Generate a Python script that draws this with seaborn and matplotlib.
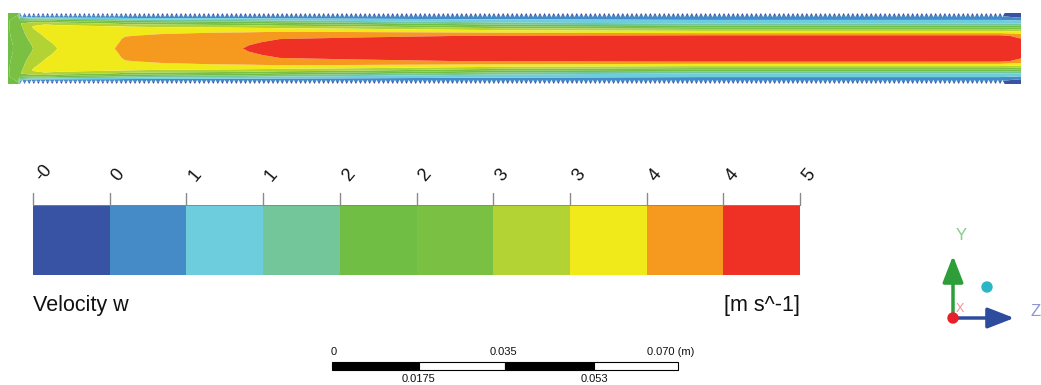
import numpy as np
import matplotlib
matplotlib.use("Agg")
import matplotlib.pyplot as plt
from matplotlib.colors import ListedColormap
from matplotlib.patches import Rectangle, Polygon, Circle
import seaborn as sns

# ---------------- data ----------------
levels = [-0.3, 0.23, 0.76, 1.29, 1.82, 2.35, 2.88, 3.41, 3.94, 4.47, 5.0]
level_labels = ["-0", "0", "1", "1", "2", "2", "3", "3", "4", "4", "5"]
band_colors = ["#3953A4", "#448BC8", "#6ECDDD", "#72C69A", "#71BE45",
               "#7AC143", "#B3D335", "#F1EA1B", "#F6991F", "#EE3124"]
var_name = "Velocity w"
var_unit = "[m s^-1]"

# stations along the channel (mm) and normalised radius (1 = wall valley)
z_mm = [0.0, 2.0, 2.43, 5.06, 7.49, 10.1, 14.6, 21.6, 23.7, 30.7, 47.5,
        55.0, 69.2, 99.5, 140.0, 200.7, 205.0]
eta = [0.0, 0.1, 0.2, 0.3, 0.4, 0.5, 0.6, 0.7, 0.8, 0.9, 1.0, 1.13]
w_half_profiles = [
    [2.30, 2.30, 2.30, 2.30, 2.30, 2.30, 2.30, 2.30, 2.30, 2.30, 2.25, 2.20],
    [2.40, 2.40, 2.42, 2.45, 2.50, 2.55, 2.60, 2.65, 2.70, 2.60, 2.40, 2.30],
    [2.50, 2.50, 2.52, 2.55, 2.60, 2.65, 2.70, 2.78, 2.85, 2.40, 0.90, -0.10],
    [2.88, 2.92, 3.00, 3.10, 3.20, 3.30, 3.38, 3.45, 3.20, 2.30, 0.50, -0.15],
    [3.15, 3.20, 3.28, 3.38, 3.45, 3.52, 3.58, 3.60, 3.30, 2.30, 0.45, -0.15],
    [3.42, 3.48, 3.55, 3.60, 3.65, 3.68, 3.70, 3.60, 3.15, 2.10, 0.45, -0.15],
    [3.60, 3.62, 3.65, 3.68, 3.70, 3.72, 3.72, 3.55, 3.00, 1.90, 0.45, -0.15],
    [3.94, 3.90, 3.85, 3.82, 3.80, 3.78, 3.70, 3.45, 2.80, 1.75, 0.45, -0.15],
    [4.10, 4.08, 4.05, 4.00, 3.92, 3.85, 3.70, 3.40, 2.70, 1.65, 0.42, -0.15],
    [4.25, 4.22, 4.18, 4.12, 4.02, 3.88, 3.65, 3.35, 2.60, 1.50, 0.42, -0.15],
    [4.47, 4.45, 4.40, 4.30, 4.12, 3.98, 3.65, 3.25, 2.40, 1.35, 0.40, -0.15],
    [4.58, 4.57, 4.54, 4.47, 4.25, 4.05, 3.70, 3.10, 2.20, 1.20, 0.40, -0.15],
    [4.65, 4.64, 4.60, 4.53, 4.40, 4.05, 3.60, 2.95, 2.00, 1.10, 0.40, -0.15],
    [4.78, 4.76, 4.72, 4.66, 4.50, 3.95, 3.30, 2.40, 1.45, 0.90, 0.40, -0.15],
    [4.85, 4.82, 4.77, 4.70, 4.62, 3.85, 3.10, 2.10, 1.25, 0.80, 0.40, -0.15],
    [4.88, 4.85, 4.80, 4.72, 4.63, 3.85, 3.10, 2.10, 1.25, 0.80, 0.40, -0.15],
    [4.60, 4.58, 4.55, 4.50, 4.30, 3.70, 3.00, 2.00, 1.20, 0.70, 0.10, -0.25],
]
half_height_mm = 6.37          # wall valley radius
tooth_start_mm, tooth_end_mm = 2.43, 201.7
n_teeth = 214

scale_values = [0.0, 0.0175, 0.035, 0.053, 0.070]
scale_labels_top = ["0", "0.035", "0.070 (m)"]
scale_labels_bottom = ["0.0175", "0.053"]

# ---------------- figure ----------------
sns.set_theme(style="white")
plt.rcParams['font.family'] = ['Liberation Sans', 'DejaVu Sans']
W, H = 1041, 385
fig = plt.figure(figsize=(W / 100, H / 100), dpi=100)
fig.patch.set_facecolor("white")

def frac(x0, y0, x1, y1):
    return [x0 / W, 1 - y1 / H, (x1 - x0) / W, (y1 - y0) / H]

# ---- channel contour ----
ax = fig.add_axes(frac(8, 13, 1021, 84))
eta_a = np.array(eta)
prof = np.array(w_half_profiles)
y_full = np.concatenate([-eta_a[::-1], eta_a[1:]]) * half_height_mm
w_full = np.concatenate([prof[:, ::-1], prof[:, 1:]], axis=1)
ax.contourf(np.array(z_mm), y_full, w_full.T, levels=levels,
            colors=band_colors, antialiased=True)
ytop = eta[-1] * half_height_mm
ax.set_xlim(z_mm[0], z_mm[-1])
ax.set_ylim(-ytop, ytop)
# sawtooth wall: mask gaps between teeth
period = (tooth_end_mm - tooth_start_mm) / n_teeth
for sign in (1, -1):
    pts = [(tooth_start_mm, sign * ytop * 1.01)]
    for k in range(n_teeth):
        x0 = tooth_start_mm + k * period
        pts.append((x0, sign * ytop))
        pts.append((x0 + 0.5 * period, sign * half_height_mm))
    pts.append((tooth_end_mm, sign * ytop))
    pts.append((tooth_end_mm, sign * ytop * 1.01))
    ax.add_patch(Polygon(pts, closed=True, facecolor="white",
                         edgecolor="none", zorder=3))
ax.axis("off")

# ---- colour legend via seaborn heatmap ----
cb_x0, cb_x1, cb_y0, cb_y1 = 33, 800, 205, 275
cax = fig.add_axes(frac(cb_x0, cb_y0, cb_x1, cb_y1))
sns.heatmap(np.arange(len(band_colors))[None, :], ax=cax,
            cmap=ListedColormap(band_colors), vmin=-0.5,
            vmax=len(band_colors) - 0.5, cbar=False,
            xticklabels=False, yticklabels=False)
cax.axhline(0, color="#6f8f86", lw=1.2)

# ---- overlay in pixel coordinates ----
ov = fig.add_axes([0, 0, 1, 1], zorder=5)
ov.set_xlim(0, W)
ov.set_ylim(H, 0)
ov.axis("off")

step = (cb_x1 - cb_x0) / (len(levels) - 1)
for i, lab in enumerate(level_labels):
    xt = cb_x0 + i * step
    ov.plot([xt, xt], [cb_y0 - 12, cb_y0], color="#8a8a8a", lw=1)
    ov.text(xt - 1, cb_y0 - 20, lab, rotation=50, ha="left", va="bottom",
            fontsize=13, color="#111111")
ov.text(cb_x0, 305, var_name, ha="left", va="center", fontsize=15.5,
        color="#111111")
ov.text(cb_x1, 305, var_unit, ha="right", va="center", fontsize=15.5,
        color="#111111")

# scale bar
sb_x0, sb_px_per_m = 332, 346 / 0.070
sb_y0, sb_y1 = 362, 370
for k in range(len(scale_values) - 1):
    xa = sb_x0 + scale_values[k] * sb_px_per_m
    xb = sb_x0 + scale_values[k + 1] * sb_px_per_m
    ov.add_patch(Rectangle((xa, sb_y0), xb - xa, sb_y1 - sb_y0,
                           facecolor="black" if k % 2 == 0 else "white",
                           edgecolor="black", lw=0.8))
top_pos = [scale_values[0], scale_values[2], scale_values[4]]
top_shift = [2, -2, -7]
for v, lab, sh in zip(top_pos, scale_labels_top, top_shift):
    ov.text(sb_x0 + v * sb_px_per_m + sh, 352,
            lab, ha="center", va="center", fontsize=8, color="#111111")
for v, lab in zip([scale_values[1], scale_values[3]], scale_labels_bottom):
    ov.text(sb_x0 + v * sb_px_per_m, 379, lab, ha="center", va="center",
            fontsize=8, color="#111111")

# axis triad
ox, oy = 953, 318
ov.annotate("", xy=(ox, 253), xytext=(ox, oy),
            arrowprops=dict(arrowstyle="-|>,head_length=0.9,head_width=0.35",
                            color="#2E9E3A", lw=2.5, mutation_scale=18))
ov.annotate("", xy=(1017, oy), xytext=(ox, oy),
            arrowprops=dict(arrowstyle="-|>,head_length=0.9,head_width=0.35",
                            color="#2E4C9E", lw=2.5, mutation_scale=18))
ov.add_patch(Circle((ox, oy), 5, color="#E8202A", zorder=6))
ov.add_patch(Circle((987, 287), 5, color="#2BB5C5", zorder=6))
ov.text(961, 236, "Y", color="#86CC8C", fontsize=12, ha="center", va="center")
ov.text(1036, 311, "Z", color="#8F94D2", fontsize=12, ha="center", va="center")
ov.text(960, 309, "X", color="#F29090", fontsize=9, ha="center", va="center")

fig.savefig("out.png", dpi=100, facecolor="white")
